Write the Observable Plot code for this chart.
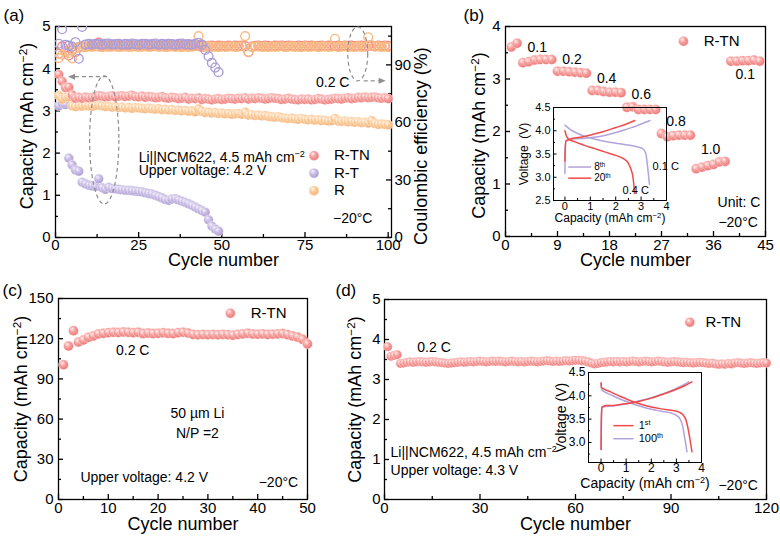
<!DOCTYPE html>
<html>
<head>
<meta charset="utf-8">
<script src="https://cdn.jsdelivr.net/npm/d3@7"></script>
<script src="https://cdn.jsdelivr.net/npm/@observablehq/plot@0.6"></script>
<style>
  body { margin: 0; background: #fff; }
  #fig { position: relative; width: 780px; height: 537px; background: #fff; overflow: hidden; }
  #fig > div { position: absolute; }
</style>
</head>
<body>
<div id="fig">
  <svg width="0" height="0" style="position:absolute">
    <defs>
      <radialGradient id="ballRTN" cx="0.42" cy="0.4" r="0.6" fx="0.36" fy="0.3">
        <stop offset="0" stop-color="#fff1f0"/>
        <stop offset="0.45" stop-color="#f7a3a1"/>
        <stop offset="1" stop-color="#ec7876"/>
      </radialGradient>
      <radialGradient id="ballRT" cx="0.42" cy="0.4" r="0.6" fx="0.36" fy="0.3">
        <stop offset="0" stop-color="#f6f2fc"/>
        <stop offset="0.45" stop-color="#cbbfe6"/>
        <stop offset="1" stop-color="#ab9bd3"/>
      </radialGradient>
      <radialGradient id="ballR" cx="0.42" cy="0.4" r="0.6" fx="0.36" fy="0.3">
        <stop offset="0" stop-color="#fff6ec"/>
        <stop offset="0.45" stop-color="#fbcf9f"/>
        <stop offset="1" stop-color="#f4b072"/>
      </radialGradient>
    </defs>
  </svg>
</div>
<script>
const NS = "http://www.w3.org/2000/svg";
const FONT = '"Liberation Sans", Arial, Helvetica, sans-serif';

// ---------- (a) Li||NCM622 cycling, 0.2 C, 4.2 V, −20 °C ----------
const seriesNames = ["R-TN", "R-T", "R"];
const capRTN = [
  3.86, 3.70, 3.55, 3.56, 3.38, 3.30, 3.32, 3.30, 3.33, 3.31,
  3.32, 3.34, 3.36, 3.35, 3.33, 3.34, 3.36, 3.33, 3.35, 3.36,
  3.34, 3.35, 3.37, 3.34, 3.33, 3.35, 3.32, 3.34, 3.33, 3.31,
  3.32, 3.34, 3.31, 3.30, 3.32, 3.31, 3.29, 3.30, 3.32, 3.28,
  3.30, 3.29, 3.31, 3.27, 3.29, 3.28, 3.26, 3.28, 3.29, 3.27,
  3.28, 3.30, 3.29, 3.28, 3.30, 3.29, 3.31, 3.28, 3.30, 3.29,
  3.31, 3.30, 3.28, 3.29, 3.31, 3.30, 3.29, 3.27, 3.28, 3.30,
  3.28, 3.27, 3.26, 3.28, 3.27, 3.28, 3.26, 3.27, 3.29, 3.28,
  3.26, 3.27, 3.28, 3.30, 3.29, 3.28, 3.30, 3.31, 3.29, 3.30,
  3.32, 3.31, 3.33, 3.31, 3.32, 3.33, 3.31, 3.30, 3.31, 3.29
];
const capR = [
  3.36, 3.28, 3.32, 3.33, 3.12, 3.10, 3.12, 3.11, 3.13, 3.12,
  3.11, 3.13, 3.14, 3.12, 3.10, 3.11, 3.09, 3.10, 3.08, 3.09,
  3.07, 3.08, 3.06, 3.08, 3.07, 3.06, 3.05, 3.07, 3.05, 3.04,
  3.05, 3.03, 3.04, 3.02, 3.03, 3.01, 3.02, 3.00, 3.01, 2.99,
  3.00, 2.98, 3.05, 2.99, 2.96, 2.97, 2.95, 2.96, 2.94, 2.95,
  2.93, 2.94, 2.92, 2.93, 2.94, 2.92, 2.97, 2.90, 2.91, 2.89,
  2.90, 2.88, 2.89, 2.87, 2.86, 2.85, 2.86, 2.84, 2.83, 2.82,
  2.83, 2.81, 2.80, 2.82, 2.80, 2.79, 2.80, 2.78, 2.79, 2.77,
  2.78, 2.76, 2.77, 2.82, 2.76, 2.75, 2.76, 2.74, 2.75, 2.73,
  2.74, 2.72, 2.73, 2.71, 2.77, 2.70, 2.68, 2.69, 2.68, 2.67
];
const capRT = [
  3.12, 3.18, 3.15, 1.88, 1.72, 1.60, 1.57, 1.31, 1.27, 1.24,
  1.22, 1.21, 1.39, 1.18, 1.14, 1.19, 1.16, 1.15, 1.14, 1.13,
  1.12, 1.12, 1.11, 1.10, 1.09, 1.08, 1.06, 1.04, 1.03, 1.00,
  0.97, 0.94, 0.90, 0.88, 0.91, 0.92, 0.89, 0.86, 0.83, 0.80,
  0.76, 0.72, 0.68, 0.64, 0.60, 0.42, 0.27, 0.20, 0.15
];
const ceRTN = [
  95.8, 99.6, 97.0, 94.9, 97.5, 96.6, 99.2, 99.6, 99.4, 99.8,
  100.1, 99.7, 101.6, 99.9, 100.2, 99.8, 100.0, 99.7, 100.1, 99.9,
  99.8, 100.2, 100.0, 99.7, 100.1, 99.9, 100.0, 99.8, 100.2, 99.9,
  100.0, 99.7, 100.1, 99.9, 100.0, 99.8, 100.1, 99.9, 99.7, 100.0,
  99.9, 100.1, 99.8, 100.0, 99.6, 99.9, 100.1, 99.8, 100.0, 99.9,
  99.7, 100.0, 99.8, 100.1, 99.9, 100.0, 99.8, 96.6, 99.5, 99.9,
  100.0, 99.8, 100.1, 99.9, 99.7, 100.0, 99.9, 100.1, 99.8, 100.0,
  99.9, 99.7, 100.0, 99.8, 100.1, 99.9, 100.0, 99.8, 99.9, 100.1,
  99.8, 100.0, 99.9, 99.7, 100.0, 99.8, 100.1, 99.9, 100.0, 99.8,
  99.9, 100.1, 99.8, 100.0, 99.9, 99.7, 100.0, 99.8, 100.1, 99.9
];
const ceR = [
  93.5, 95.2, 97.0, 96.2, 93.4, 98.6, 99.2, 99.5, 99.3, 99.6,
  99.4, 99.7, 99.5, 99.2, 99.6, 99.4, 99.5, 99.7, 99.3, 99.5,
  99.6, 99.4, 99.5, 99.7, 99.3, 99.5, 99.6, 99.4, 99.5, 99.7,
  99.4, 99.6, 99.3, 99.5, 99.6, 99.4, 99.5, 99.3, 99.6, 99.4,
  99.5, 99.7, 105.0, 99.2, 99.5, 99.6, 99.4, 99.5, 99.3, 99.6,
  99.4, 99.5, 99.7, 99.3, 99.5, 99.6, 105.0, 96.8, 99.4, 99.5,
  99.6, 99.4, 99.5, 99.3, 99.6, 99.4, 99.5, 99.7, 99.3, 99.5,
  99.6, 99.4, 99.5, 99.3, 99.6, 99.4, 99.5, 99.7, 99.3, 99.5,
  99.6, 99.4, 99.5, 103.6, 99.2, 99.5, 99.6, 99.4, 99.5, 99.3,
  99.6, 99.4, 99.5, 104.4, 100.2, 99.5, 99.6, 99.4, 99.5, 99.3
];
const ceRT = [
  101.0, 108.6, 100.4, 100.0, 99.5, 101.8, 93.2, 109.8, 100.6, 100.9,
  100.7, 101.0, 100.8, 100.6, 100.9, 101.1, 100.7, 100.8, 101.0, 100.6,
  100.9, 100.7, 101.1, 100.8, 100.6, 100.9, 101.0, 100.7, 100.8, 101.1,
  100.6, 100.9, 100.7, 101.0, 100.8, 100.6, 100.9, 101.1, 100.7, 100.8,
  100.6, 100.9, 101.5, 100.5, 97.8, 94.5, 91.0, 88.6, 86.2
];
const capTicks = [0, 1, 2, 3, 4, 5];
const capMinor = [0.5, 1.5, 2.5, 3.5, 4.5];
const ceTicks = [0, 30, 60, 90];
const ceMinor = [15, 45, 75, 105];
const cycleTicksA = [0, 25, 50, 75, 100];
const cycleMinorA = [12.5, 37.5, 62.5, 87.5];

// ---------- (b) rate capability ----------
const rateCapacity = [
  3.61, 3.68,
  3.31, 3.33, 3.36, 3.37, 3.37, 3.37,
  3.15, 3.15, 3.14, 3.13, 3.12, 3.11,
  2.78, 2.78, 2.76, 2.75, 2.75, 2.74,
  2.46, 2.47, 2.42, 2.42, 2.42, 2.42,
  1.96, 1.90, 1.92, 1.93, 1.93, 1.93,
  1.29, 1.32, 1.35, 1.37, 1.42, 1.43,
  3.34, 3.34, 3.35, 3.35, 3.36, 3.34
];
const rateSteps = ["0.1", "0.2", "0.4", "0.6", "0.8", "1.0", "0.1"];
const rateFirstCycle = 3;
const cyclesPerStep = 6;
const cycleTicksB = [0, 9, 18, 27, 36, 45];
const cycleMinorB = [4.5, 13.5, 22.5, 31.5, 40.5];
const capTicksB = [0, 1, 2, 3, 4];
const capMinorB = [0.5, 1.5, 2.5, 3.5];
// voltage profiles: [capacity, voltage]
const charge8 = [[0, 3.08], [0.01, 3.5], [0.04, 3.78], [0.3, 3.82], [0.8, 3.84], [1.3, 3.87], [1.8, 3.93], [2.3, 4.01], [2.8, 4.1], [3.35, 4.22]];
const discharge8 = [[0, 4.12], [0.2, 4.03], [0.5, 3.94], [0.9, 3.86], [1.4, 3.79], [1.9, 3.74], [2.4, 3.7], [2.8, 3.66], [3.05, 3.62], [3.18, 3.52], [3.24, 3.3], [3.3, 3.0], [3.33, 2.85]];
const charge20 = [[0, 3.35], [0.01, 3.6], [0.04, 3.78], [0.2, 3.82], [0.6, 3.86], [1.0, 3.91], [1.5, 3.98], [2.0, 4.07], [2.4, 4.14], [2.75, 4.22]];
const discharge20 = [[0, 4.0], [0.05, 3.9], [0.15, 3.82], [0.4, 3.76], [0.8, 3.68], [1.2, 3.61], [1.6, 3.54], [2.0, 3.47], [2.3, 3.4], [2.5, 3.3], [2.6, 3.17], [2.68, 3.0], [2.72, 2.8], [2.74, 2.65]];
const voltTicks = [2.5, 3.0, 3.5, 4.0, 4.5];
const voltMinor = [2.75, 3.25, 3.75, 4.25];
const inCapTicks = [0, 1, 2, 3, 4];
const inCapMinor = [0.5, 1.5, 2.5, 3.5];

// ---------- (c) 50 µm Li, N/P = 2 ----------
const capNP = [
  100.5, 114.5, 126.0, 117.5, 119.0, 121.0, 122.0, 123.5, 124.0, 124.5,
  124.8, 124.6, 125.0, 124.8, 124.5, 124.8, 123.8, 124.2, 123.8, 124.0,
  124.5, 124.0, 123.8, 124.5, 124.8, 124.2, 123.2, 123.0, 123.2, 123.0,
  123.2, 123.0, 123.2, 123.0, 122.6, 123.2, 123.6, 124.0, 123.5, 123.4,
  123.6, 123.2, 123.4, 123.6, 123.8, 123.0, 122.0, 121.2, 119.5, 116.0
];
const cycleTicksC = [0, 10, 20, 30, 40, 50];
const cycleMinorC = [5, 15, 25, 35, 45];
const capTicksC = [0, 30, 60, 90, 120, 150];
const capMinorC = [15, 45, 75, 105, 135];

// ---------- (d) 4.3 V cycling ----------
const cap43 = [
  3.82, 3.58, 3.60, 3.62, 3.40, 3.41, 3.43, 3.44, 3.43, 3.44,
  3.45, 3.44, 3.43, 3.44, 3.45, 3.44, 3.43, 3.42, 3.41, 3.40,
  3.41, 3.42, 3.43, 3.44, 3.43, 3.44, 3.45, 3.44, 3.45, 3.46,
  3.45, 3.44, 3.45, 3.46, 3.45, 3.46, 3.45, 3.44, 3.45, 3.46,
  3.45, 3.44, 3.45, 3.44, 3.45, 3.46, 3.45, 3.44, 3.45, 3.46,
  3.47, 3.46, 3.45, 3.46, 3.45, 3.46, 3.47, 3.46, 3.47, 3.48,
  3.48, 3.47, 3.46, 3.44, 3.41, 3.39, 3.40, 3.42, 3.43, 3.44,
  3.45, 3.44, 3.45, 3.44, 3.45, 3.44, 3.45, 3.46, 3.45, 3.44,
  3.45, 3.46, 3.45, 3.44, 3.45, 3.46, 3.45, 3.44, 3.43, 3.44,
  3.45, 3.44, 3.43, 3.42, 3.43, 3.42, 3.41, 3.42, 3.43, 3.42,
  3.41, 3.40, 3.41, 3.39, 3.38, 3.39, 3.38, 3.40, 3.39, 3.41,
  3.42, 3.41, 3.40, 3.41, 3.42, 3.41, 3.40, 3.41, 3.42, 3.41
];
const cycleTicksD = [0, 30, 60, 90, 120];
const cycleMinorD = [15, 45, 75, 105];
const charge1 = [[0, 2.85], [0.01, 3.4], [0.03, 3.76], [0.2, 3.79], [0.6, 3.8], [1.0, 3.83], [1.5, 3.88], [2.0, 3.95], [2.5, 4.04], [3.0, 4.14], [3.3, 4.21], [3.62, 4.3]];
const discharge1 = [[0, 4.28], [0.02, 4.18], [0.1, 4.15], [0.4, 4.08], [0.8, 3.98], [1.2, 3.89], [1.6, 3.82], [2.0, 3.76], [2.4, 3.72], [2.8, 3.69], [3.1, 3.65], [3.25, 3.6], [3.4, 3.45], [3.5, 3.2], [3.56, 3.0], [3.62, 2.8]];
const charge100 = [[0, 2.85], [0.01, 3.4], [0.03, 3.74], [0.2, 3.77], [0.6, 3.79], [1.0, 3.83], [1.5, 3.89], [2.0, 3.96], [2.5, 4.05], [3.0, 4.16], [3.5, 4.3]];
const discharge100 = [[0, 4.26], [0.02, 4.14], [0.1, 4.1], [0.4, 4.02], [0.8, 3.92], [1.2, 3.84], [1.6, 3.77], [2.0, 3.71], [2.4, 3.67], [2.8, 3.63], [3.0, 3.58], [3.15, 3.5], [3.25, 3.35], [3.33, 3.1], [3.38, 2.95], [3.42, 2.8]];
const voltTicksD = [3.0, 3.5, 4.0, 4.5];
const voltMinorD = [2.75, 3.25, 3.75, 4.25];

// ---------- styling ----------
const ball = {"R-TN": "url(#ballRTN)", "R-T": "url(#ballRT)", "R": "url(#ballR)"};
const ring = {"R-TN": "#f38a88", "R-T": "#ad9dd6", "R": "#f7bb82"};
const lineRed = "#f2494b";
const linePurple = "#b2a3da";

const byCycle = (arr) => arr.map((v, i) => ({cycle: i + 1, v}));
const toXY = (arr) => arr.map(([c, v]) => ({c, v}));

function balls(arr, name, r = 4.8, extra = {}) {
  return Plot.dot(byCycle(arr), {x: "cycle", y: "v", r, fill: ball[name], stroke: "#fff", strokeWidth: 0.5, strokeOpacity: 0.8, ...extra});
}

function axes({pw, ph, xTicks, xMinor, yTicks, yMinor, fs = 15, xPad = 3, yPad = 5, major = 5, minor = 3, sw = 1.3, fmtX = (d) => String(d), fmtY = (d) => String(d)}) {
  return [
    Plot.tickX(xTicks, {x: (d) => d, insetTop: ph - major, strokeWidth: sw}),
    Plot.tickX(xMinor, {x: (d) => d, insetTop: ph - minor, strokeWidth: sw}),
    Plot.tickY(yTicks, {y: (d) => d, insetRight: pw - major, strokeWidth: sw}),
    Plot.tickY(yMinor, {y: (d) => d, insetRight: pw - minor, strokeWidth: sw}),
    Plot.axisX(xTicks, {x: (d) => d, tickSize: 0, tickPadding: xPad, fontSize: fs, tickFormat: fmtX, label: null}),
    Plot.axisY(yTicks, {y: (d) => d, tickSize: 0, tickPadding: yPad, fontSize: fs, tickFormat: fmtY, label: null}),
    Plot.frame({strokeWidth: sw})
  ];
}

const label = (s, o) => Plot.text([s], {fill: "#000", lineAnchor: "middle", textAnchor: "middle", fontSize: 18, ...o});
const note = (s, x, y, o = {}) => Plot.text([s], {x: () => x, y: () => y, fill: "#000", textAnchor: "start", lineAnchor: "middle", fontSize: 14, ...o});

function panel({width, height, margin: [t, r, b, l], x, y, marks}) {
  return Plot.plot({
    width, height, marginTop: t, marginRight: r, marginBottom: b, marginLeft: l,
    x: {domain: x, axis: null}, y: {domain: y, axis: null},
    style: {fontFamily: FONT, color: "#000", background: "transparent", overflow: "visible"},
    marks
  });
}

// dashed guide ellipses and arrows linking data to their axis
function dashedGuides(ellipses, arrows) {
  return (index, {x, y}) => {
    const g = document.createElementNS(NS, "g");
    const grey = "#8e8e8e";
    for (const e of ellipses) {
      const el = document.createElementNS(NS, "ellipse");
      const cx = x(e.cx), cy = y(e.cy);
      el.setAttribute("cx", cx);
      el.setAttribute("cy", cy);
      el.setAttribute("rx", Math.abs(x(e.cx + e.rx) - cx));
      el.setAttribute("ry", Math.abs(y(e.cy + e.ry) - cy));
      el.setAttribute("fill", "none");
      el.setAttribute("stroke", grey);
      el.setAttribute("stroke-width", 1.2);
      el.setAttribute("stroke-dasharray", "4 3");
      g.appendChild(el);
    }
    for (const a of arrows) {
      const x1 = x(a.x1), y1 = y(a.y1), x2 = x(a.x2), y2 = y(a.y2);
      const ang = Math.atan2(y2 - y1, x2 - x1), L = 7, W = 3;
      const bx = x2 - L * Math.cos(ang), by = y2 - L * Math.sin(ang);
      const ln = document.createElementNS(NS, "line");
      ln.setAttribute("x1", x1); ln.setAttribute("y1", y1);
      ln.setAttribute("x2", bx); ln.setAttribute("y2", by);
      ln.setAttribute("stroke", grey);
      ln.setAttribute("stroke-width", 1.2);
      ln.setAttribute("stroke-dasharray", "4 3");
      g.appendChild(ln);
      const head = document.createElementNS(NS, "path");
      const px = -Math.sin(ang) * W, py = Math.cos(ang) * W;
      head.setAttribute("d", `M${x2},${y2}L${bx + px},${by + py}L${bx - px},${by - py}Z`);
      head.setAttribute("fill", grey);
      g.appendChild(head);
    }
    return g;
  };
}

const fig = document.getElementById("fig");
function place(el, left, top) {
  const d = document.createElement("div");
  d.style.left = left + "px";
  d.style.top = top + "px";
  d.appendChild(el);
  fig.appendChild(d);
}

// ===== (a) =====
{
  const W = 440, H = 270, m = [26, 49, 33, 55];
  const pw = W - m[1] - m[3], ph = H - m[0] - m[2];
  const ceToCap = (d) => d * 5 / 110;
  const ce = (arr) => byCycle(arr).map((d) => ({cycle: d.cycle, v: ceToCap(d.v)}));
  const rings = (arr, name) => Plot.dot(ce(arr), {x: "cycle", y: "v", r: 4.4, fill: "none", stroke: ring[name], strokeWidth: 1.4, clip: true});
  place(panel({
    width: W, height: H, margin: m, x: [0, 101], y: [0, 5],
    marks: [
      ...axes({pw, ph, xTicks: cycleTicksA, xMinor: cycleMinorA, yTicks: capTicks, yMinor: capMinor, xPad: 2}),
      Plot.tickY(ceTicks, {y: ceToCap, insetLeft: pw - 5, strokeWidth: 1.3}),
      Plot.tickY(ceMinor, {y: ceToCap, insetLeft: pw - 3, strokeWidth: 1.3}),
      Plot.axisY(ceTicks, {y: ceToCap, anchor: "right", tickSize: 0, tickPadding: 3, fontSize: 15, tickFormat: (d) => String(d), label: null}),
      rings(ceRTN, "R-TN"),
      rings(ceR, "R"),
      rings(ceRT, "R-T"),
      balls(capRT, "R-T"),
      balls(capR, "R"),
      balls(capRTN, "R-TN"),
      dashedGuides(
        [{cx: 14.8, cy: 2.30, rx: 4.4, ry: 1.52}, {cx: 91, cy: 4.34, rx: 3.0, ry: 0.64}],
        [{x1: 15.6, y1: 3.80, x2: 3.9, y2: 3.80}, {x1: 92.8, y1: 3.70, x2: 99.4, y2: 3.70}]
      ),
      note("Li||NCM622, 4.5 mAh cm^{−2}", 25, 1.90),
      note("Upper voltage: 4.2 V", 25, 1.58),
      ...seriesNames.map((s, i) => Plot.dot([s], {x: () => 77.7, y: () => 1.94 - i * 0.415, r: 5, fill: ball[s], stroke: "#fff", strokeWidth: 0.5})),
      ...seriesNames.map((s, i) => note(s, 83.7, 1.94 - i * 0.415, {fontSize: 15})),
      note("−20°C", 83.4, 0.45),
      note("0.2 C", 78.3, 3.67),
      label("Cycle number", {frameAnchor: "bottom", dy: 23}),
      label("Capacity (mAh cm^{−2})", {frameAnchor: "left", dx: -28, dy: -6, rotate: -90}),
      label("Coulombic efficiency (%)", {frameAnchor: "right", dx: 30, dy: 14, rotate: -90}),
      label("(a)", {frameAnchor: "top-left", dx: -52, dy: -11, textAnchor: "start", fontSize: 17})
    ]
  }), 0, 0);
}

// ===== (b) =====
{
  const W = 340, H = 270, m = [26, 15, 34, 65];
  const pw = W - m[1] - m[3], ph = H - m[0] - m[2];
  const steps = rateSteps.map((s, k) => {
    const vals = rateCapacity.slice(rateFirstCycle - 1 + k * cyclesPerStep, rateFirstCycle - 1 + (k + 1) * cyclesPerStep);
    const last = k === rateSteps.length - 1;
    return {s, c: rateFirstCycle + k * cyclesPerStep + (cyclesPerStep - 1) / 2, v: last ? d3.min(vals) : d3.max(vals), last};
  });
  place(panel({
    width: W, height: H, margin: m, x: [0, 45], y: [0, 4],
    marks: [
      ...axes({pw, ph, xTicks: cycleTicksB, xMinor: cycleMinorB, yTicks: capTicksB, yMinor: capMinorB, xPad: 3}),
      balls(rateCapacity, "R-TN", 5),
      Plot.text(steps.filter((d) => !d.last), {x: "c", y: "v", text: "s", dy: -12, fontSize: 14, fill: "#000"}),
      Plot.text(steps.filter((d) => d.last), {x: "c", y: "v", text: "s", dy: 13, fontSize: 14, fill: "#000"}),
      Plot.dot(["R-TN"], {x: () => 30.8, y: () => 3.72, r: 5, fill: ball["R-TN"], stroke: "#fff", strokeWidth: 0.5}),
      note("R-TN", 34.3, 3.72, {fontSize: 15}),
      note("Unit: C", 36.7, 0.65),
      note("−20°C", 36.85, 0.27),
      label("Cycle number", {frameAnchor: "bottom", dy: 24}),
      label("Capacity (mAh cm^{−2})", {frameAnchor: "left", dx: -26, dy: 4, rotate: -90}),
      label("(b)", {frameAnchor: "top-left", dx: -42, dy: -11, textAnchor: "start", fontSize: 17})
    ]
  }), 440, 0);
}

// ===== (b) inset: voltage profiles =====
{
  const W = 160, H = 135, m = [12, 14, 30, 33];
  const pw = W - m[1] - m[3], ph = H - m[0] - m[2];
  const curves = [
    ...toXY(charge8).map((d) => ({...d, id: "c8"})), ...toXY(discharge8).map((d) => ({...d, id: "d8"}))
  ];
  const curves20 = [
    ...toXY(charge20).map((d) => ({...d, id: "c20"})), ...toXY(discharge20).map((d) => ({...d, id: "d20"}))
  ];
  place(panel({
    width: W, height: H, margin: m, x: [-0.45, 4], y: [2.5, 4.5],
    marks: [
      ...axes({pw, ph, xTicks: inCapTicks, xMinor: inCapMinor, yTicks: voltTicks, yMinor: voltMinor, fs: 11, xPad: 2, yPad: 3, major: 3.5, minor: 2, sw: 1, fmtY: (d) => d.toFixed(1)}),
      Plot.line(curves, {x: "c", y: "v", z: "id", stroke: linePurple, strokeWidth: 1.5, curve: "monotone-x"}),
      Plot.line(curves20, {x: "c", y: "v", z: "id", stroke: lineRed, strokeWidth: 1.5, curve: "monotone-x"}),
      Plot.ruleY([3.22], {x1: 0.15, x2: 1.05, stroke: linePurple, strokeWidth: 1.5}),
      Plot.ruleY([2.98], {x1: 0.15, x2: 1.05, stroke: lineRed, strokeWidth: 1.5}),
      note("8^{th}", 1.15, 3.22, {fontSize: 10}),
      note("20^{th}", 1.15, 2.98, {fontSize: 10}),
      note("0.1 C", 3.45, 3.24, {fontSize: 11}),
      note("0.4 C", 2.27, 2.72, {fontSize: 11}),
      label("Capacity (mAh cm^{−2})", {frameAnchor: "bottom", dy: 18, fontSize: 12}),
      label("Voltage  (V)", {frameAnchor: "left", dx: -29, rotate: -90, fontSize: 12})
    ]
  }), 520, 95);
}

// ===== (c) =====
{
  const W = 330, H = 267, m = [28, 23, 38, 58];
  const pw = W - m[1] - m[3], ph = H - m[0] - m[2];
  place(panel({
    width: W, height: H, margin: m, x: [0, 50], y: [0, 150],
    marks: [
      ...axes({pw, ph, xTicks: cycleTicksC, xMinor: cycleMinorC, yTicks: capTicksC, yMinor: capMinorC, xPad: 3}),
      balls(capNP, "R-TN", 5),
      Plot.dot(["R-TN"], {x: () => 34.5, y: () => 139, r: 5, fill: ball["R-TN"], stroke: "#fff", strokeWidth: 0.5}),
      note("R-TN", 38.6, 139, {fontSize: 15}),
      note("0.2 C", 14.9, 111.2, {textAnchor: "middle"}),
      note("50 µm Li", 27.9, 64.4, {textAnchor: "middle"}),
      note("N/P =2", 27.9, 49.3, {textAnchor: "middle"}),
      note("Upper voltage: 4.2 V", 4.4, 16.6),
      note("−20°C", 40.2, 12.9),
      label("Cycle number", {frameAnchor: "bottom", dy: 25}),
      label("Capacity (mAh cm^{−2})", {frameAnchor: "left", dx: -37, rotate: -90}),
      label("(c)", {frameAnchor: "top-left", dx: -56, dy: -8, textAnchor: "start", fontSize: 17})
    ]
  }), 0, 270);
}

// ===== (d) =====
{
  const W = 450, H = 267, m = [29, 14, 38, 54];
  const pw = W - m[1] - m[3], ph = H - m[0] - m[2];
  place(panel({
    width: W, height: H, margin: m, x: [0, 120], y: [0, 5],
    marks: [
      ...axes({pw, ph, xTicks: cycleTicksD, xMinor: cycleMinorD, yTicks: capTicks, yMinor: capMinor, xPad: 3, yPad: 4}),
      balls(cap43, "R-TN", 4.6),
      Plot.dot(["R-TN"], {x: () => 95.9, y: () => 4.43, r: 5, fill: ball["R-TN"], stroke: "#fff", strokeWidth: 0.5}),
      note("R-TN", 100.8, 4.43, {fontSize: 15}),
      note("0.2 C", 10.3, 3.81),
      note("Li||NCM622, 4.5 mAh cm^{−2}", 1.9, 1.18),
      note("Upper voltage: 4.3 V", 1.9, 0.73),
      note("−20°C", 104.9, 0.35),
      label("Cycle number", {frameAnchor: "bottom", dy: 25}),
      label("Capacity (mAh cm^{−2})", {frameAnchor: "left", dx: -29, rotate: -90}),
      label("(d)", {frameAnchor: "top-left", dx: -49, dy: -9, textAnchor: "start", fontSize: 17})
    ]
  }), 330, 270);
}

// ===== (d) inset: 1st and 100th cycle profiles =====
{
  const W = 160, H = 130, m = [12, 14, 28, 33];
  const pw = W - m[1] - m[3], ph = H - m[0] - m[2];
  const first = [...toXY(charge1).map((d) => ({...d, id: "c1"})), ...toXY(discharge1).map((d) => ({...d, id: "d1"}))];
  const hundredth = [...toXY(charge100).map((d) => ({...d, id: "c100"})), ...toXY(discharge100).map((d) => ({...d, id: "d100"}))];
  place(panel({
    width: W, height: H, margin: m, x: [-0.5, 4], y: [2.57, 4.5],
    marks: [
      ...axes({pw, ph, xTicks: inCapTicks, xMinor: inCapMinor, yTicks: voltTicksD, yMinor: voltMinorD, fs: 12, xPad: 1, yPad: 3, major: 3.5, minor: 2, sw: 1, fmtY: (d) => d.toFixed(1)}),
      Plot.line(hundredth, {x: "c", y: "v", z: "id", stroke: linePurple, strokeWidth: 1.5, curve: "monotone-x"}),
      Plot.line(first, {x: "c", y: "v", z: "id", stroke: lineRed, strokeWidth: 1.5, curve: "monotone-x"}),
      Plot.ruleY([3.36], {x1: 0.51, x2: 1.31, stroke: lineRed, strokeWidth: 1.5}),
      Plot.ruleY([3.08], {x1: 0.51, x2: 1.31, stroke: linePurple, strokeWidth: 1.5}),
      note("1^{st}", 1.5, 3.36, {fontSize: 11}),
      note("100^{th}", 1.5, 3.08, {fontSize: 11}),
      label("Capacity (mAh cm^{−2})", {frameAnchor: "bottom", dy: 21, fontSize: 14}),
      label("Voltage (V)", {frameAnchor: "left", dx: -27, rotate: -90, fontSize: 14})
    ]
  }), 555, 360);
}

// turn ^{...} markup into raised tspans
fig.querySelectorAll("text, tspan").forEach((el) => {
  if (el.children.length) return;
  const s = el.textContent;
  if (!s.includes("^{")) return;
  el.textContent = "";
  const re = /\^\{([^}]*)\}/g;
  let last = 0, mt;
  while ((mt = re.exec(s))) {
    if (mt.index > last) el.appendChild(document.createTextNode(s.slice(last, mt.index)));
    const t = document.createElementNS(NS, "tspan");
    t.setAttribute("baseline-shift", "super");
    t.setAttribute("font-size", "65%");
    t.textContent = mt[1];
    el.appendChild(t);
    last = re.lastIndex;
  }
  if (last < s.length) el.appendChild(document.createTextNode(s.slice(last)));
});
</script>
</body>
</html>
